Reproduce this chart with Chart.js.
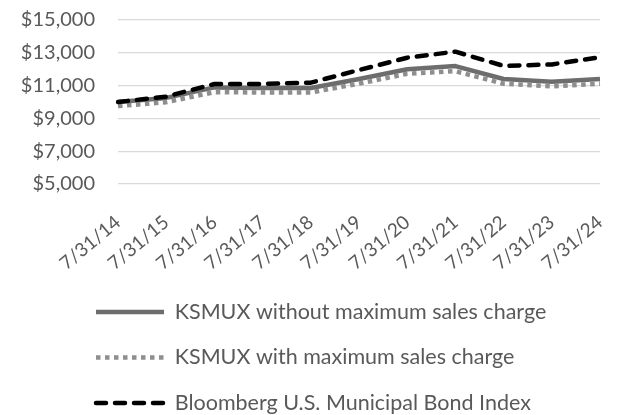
<!DOCTYPE html>
<html>
<head>
<meta charset="utf-8">
<script src="https://cdn.jsdelivr.net/npm/chart.js@4"></script>
<style>
  html, body { margin: 0; padding: 0; background: #fff; }
  #wrap { width: 618px; height: 415px; }
</style>
</head>
<body>
<div id="wrap"><canvas id="growth-chart"></canvas></div>
<script>
// Hypothetical $10,000 investment
const dates = ['7/31/14', '7/31/15', '7/31/16', '7/31/17', '7/31/18', '7/31/19',
  '7/31/20', '7/31/21', '7/31/22', '7/31/23', '7/31/24'];
const ksmuxNoCharge = [10000, 10250, 10890, 10850, 10850, 11400, 12000, 12190, 11400, 11230, 11400];
const ksmuxWithCharge = [9750, 9990, 10600, 10580, 10580, 11120, 11720, 11880, 11110, 10950, 11110];
const muniIndex = [10000, 10330, 11100, 11100, 11180, 11950, 12700, 13070, 12200, 12290, 12730];
const seriesNames = [
  'KSMUX without maximum sales charge',
  'KSMUX with maximum sales charge',
  'Bloomberg U.S. Municipal Bond Index'
];
const yMin = 5000;
const yMax = 15000;
const yStep = 2000;

const textGrey = '#595959';
const fontFamily = 'Lato, "Open Sans", sans-serif';

// legend sits in an indented block under the plot
const legendNudge = {
  id: 'legendNudge',
  afterLayout(chart, args, opts) {
    chart.legend.left += opts.x;
    chart.legend.top += opts.y;
    chart.legend.bottom += opts.y;
  }
};

// legend samples are drawn as lines, so copy the dash pattern over
function lineLabels(chart) {
  const items = Chart.defaults.plugins.legend.labels.generateLabels(chart);
  items.forEach(item => {
    const ds = chart.data.datasets[item.datasetIndex];
    item.lineDash = ds.borderDash || [];
    item.lineCap = ds.borderCapStyle || 'butt';
    item.lineWidth = ds.borderWidth;
    item.strokeStyle = ds.borderColor;
  });
  return items.sort((a, b) => a.datasetIndex - b.datasetIndex);
}

new Chart(document.getElementById('growth-chart'), {
  type: 'line',
  data: {
    labels: dates,
    datasets: [{
      label: seriesNames[0],
      data: ksmuxNoCharge,
      borderColor: '#6d6d6d',
      borderWidth: 4.5,
      order: 1
    }, {
      label: seriesNames[1],
      data: ksmuxWithCharge,
      borderColor: '#8e8e8e',
      borderWidth: 4.5,
      borderDash: [4.5, 4.5],
      order: 2
    }, {
      label: seriesNames[2],
      data: muniIndex,
      borderColor: '#000000',
      borderWidth: 4.5,
      borderDash: [10, 9],
      borderCapStyle: 'round',
      order: 0
    }]
  },
  options: {
    responsive: true,
    maintainAspectRatio: false,
    animation: false,
    layout: { autoPadding: false, padding: { top: 20, right: 18, left: 20, bottom: 0 } },
    elements: {
      point: { radius: 0, hoverRadius: 0 },
      line: { tension: 0, fill: false, borderJoinStyle: 'round' }
    },
    scales: {
      x: {
        grid: { display: false, drawTicks: false },
        border: { display: false },
        ticks: {
          color: textGrey,
          font: { family: fontFamily, size: 19 },
          minRotation: 40,
          maxRotation: 40,
          padding: 27,
          autoSkip: false
        },
        afterFit: scale => {
          scale.height = 84.5;
          scale.paddingLeft = 0;
          scale.paddingRight = 0;
        }
      },
      y: {
        min: yMin,
        max: yMax,
        grid: { color: '#d9d9d9', lineWidth: 1.3, drawTicks: false },
        border: { display: false },
        ticks: {
          stepSize: yStep,
          autoSkip: false,
          color: textGrey,
          padding: 23,
          font: { family: fontFamily, size: 20 },
          callback: v => '$' + v.toLocaleString('en-US')
        },
        afterFit: scale => {
          scale.width = 98;
          scale.paddingTop = 0;
          scale.paddingBottom = 0;
        }
      }
    },
    plugins: {
      tooltip: { enabled: false },
      legendNudge: { x: 52, y: 8.75 },
      legend: {
        position: 'bottom',
        align: 'start',
        labels: {
          usePointStyle: true,
          pointStyle: 'line',
          pointStyleWidth: 68,
          padding: 24,
          color: textGrey,
          font: { family: fontFamily, size: 21.5 },
          generateLabels: lineLabels
        }
      }
    }
  },
  plugins: [legendNudge]
});
</script>
</body>
</html>
